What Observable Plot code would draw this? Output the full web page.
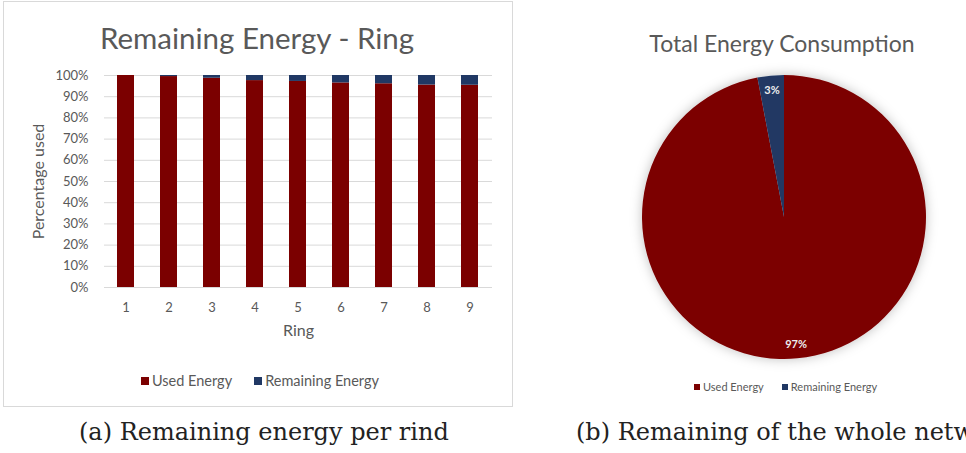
<!DOCTYPE html>
<html><head><meta charset="utf-8">
<script src="https://cdn.jsdelivr.net/npm/d3@7"></script>
<script src="https://cdn.jsdelivr.net/npm/@observablehq/plot@0.6"></script>
<style>
body{margin:0;width:966px;height:453px;overflow:hidden;background:#fff;position:relative;font-family:Lato,"Open Sans",sans-serif;color:#595959;}
.abs{position:absolute;white-space:nowrap;}
.ctr{transform:translate(-50%,-50%);}
.sq{display:inline-block;vertical-align:middle;}
.cap{font-family:"DejaVu Serif",serif;font-size:24px;color:#222;}
</style></head><body>
<div class="abs" style="left:3px;top:1px;width:508px;height:404px;border:1px solid #d9d9d9;"></div>
<div id="bars" class="abs" style="left:0;top:0;"></div>
<div id="pie" class="abs" style="left:606px;top:0;"></div>
<div class="abs ctr" style="left:257px;top:37px;font-size:29.5px;">Remaining Energy - Ring</div>
<div class="abs ctr" style="left:782px;top:43px;font-size:23px;">Total Energy Consumption</div>
<div id="legA" class="abs" style="left:141px;top:372px;font-size:14.5px;"></div>
<div id="legB" class="abs" style="left:694px;top:380px;font-size:11px;"></div>
<div class="abs cap" style="left:79px;top:418px;">(a) Remaining energy per rind</div>
<div class="abs cap" style="left:576px;top:418px;">(b) Remaining of the whole network</div>
<script>
const rings = [1, 2, 3, 4, 5, 6, 7, 8, 9];
const usedEnergy = [100, 99.5, 98.7, 97.6, 97.2, 96.5, 96.1, 95.5, 95.4];
const remainingEnergy = [0, 0.5, 1.3, 2.4, 2.8, 3.5, 3.9, 4.5, 4.6];
const seriesNames = ["Used Energy", "Remaining Energy"];
const seriesColors = ["#7b0000", "#203864"];
const yTicks = [0, 10, 20, 30, 40, 50, 60, 70, 80, 90, 100];
const pieValues = [97, 3];

const table = rings.flatMap((r, i) => [
  {ring: r, series: seriesNames[0], value: usedEnergy[i]},
  {ring: r, series: seriesNames[1], value: remainingEnergy[i]}
]);

const barChart = Plot.plot({
  width: 520, height: 410,
  marginLeft: 104, marginRight: 28, marginTop: 75, marginBottom: 123,
  style: {fontFamily: "Lato, sans-serif", fontSize: "13px", color: "#595959", background: "transparent"},
  x: {domain: rings, paddingInner: 0.6, paddingOuter: 0.3, tickSize: 0, tickPadding: 15, label: null},
  y: {domain: [0, 100], ticks: yTicks, tickFormat: d => d + "%", tickSize: 0, tickPadding: 16, label: null},
  color: {domain: seriesNames, range: seriesColors},
  marks: [
    Plot.gridY(yTicks, {stroke: "#d9d9d9", strokeOpacity: 1}),
    Plot.barY(table, {x: "ring", y: "value", fill: "series"}),
    Plot.text(["Percentage used"], {frameAnchor: "left", textAnchor: "middle", dx: -66, rotate: -90, fontSize: 16, fill: "#595959"}),
    Plot.text(["Ring"], {frameAnchor: "bottom", dy: 48, fontSize: 16, fill: "#595959"})
  ]
});
document.getElementById("bars").appendChild(barChart);

const colorScale = Plot.scale({color: {domain: seriesNames, range: seriesColors}});

function legend(el, size, gap) {
  el.innerHTML = seriesNames.map((n, i) =>
    `<span style="margin-right:${gap}px"><span class="sq" style="width:${size}px;height:${size}px;background:${colorScale.apply(n)};margin-right:3px;position:relative;top:-1px"></span>${n}</span>`
  ).join("");
}
legend(document.getElementById("legA"), 8, 22);
legend(document.getElementById("legB"), 6, 18);

const pieChart = Plot.plot({
  width: 360, height: 410, margin: 0,
  style: {background: "transparent"},
  x: {domain: [0, 360], axis: null},
  y: {domain: [410, 0], axis: null},
  marks: [
    (index, scales) => {
      const cx = scales.x(178), cy = scales.y(217), r = 142;
      const g = d3.create("svg:g");
      const defs = g.append("defs");
      const f = defs.append("filter").attr("id", "glow").attr("x", "-20%").attr("y", "-20%").attr("width", "140%").attr("height", "140%");
      f.append("feDropShadow").attr("dx", 0).attr("dy", 0).attr("stdDeviation", 6).attr("flood-color", "#000").attr("flood-opacity", 0.25);
      const arcs = d3.pie().sort(null)(pieValues);
      const arc = d3.arc().innerRadius(0).outerRadius(r);
      const labelArc = d3.arc().innerRadius(r * 0.9).outerRadius(r * 0.9);
      const pg = g.append("g").attr("transform", `translate(${cx},${cy})`);
      pg.append("g").attr("filter", "url(#glow)").selectAll("path").data(arcs).join("path")
        .attr("d", arc).attr("fill", (d, i) => colorScale.apply(seriesNames[i]));
      pg.selectAll("text").data(arcs).join("text")
        .attr("transform", d => `translate(${labelArc.centroid(d)})`)
        .attr("text-anchor", "middle").attr("dy", "0.35em")
        .attr("font-family", "Lato, sans-serif").attr("font-size", 11).attr("font-weight", "bold")
        .attr("fill", "#eeeeee").text(d => d.value + "%");
      return g.node();
    }
  ]
});
document.getElementById("pie").appendChild(pieChart);
</script>
</body></html>
